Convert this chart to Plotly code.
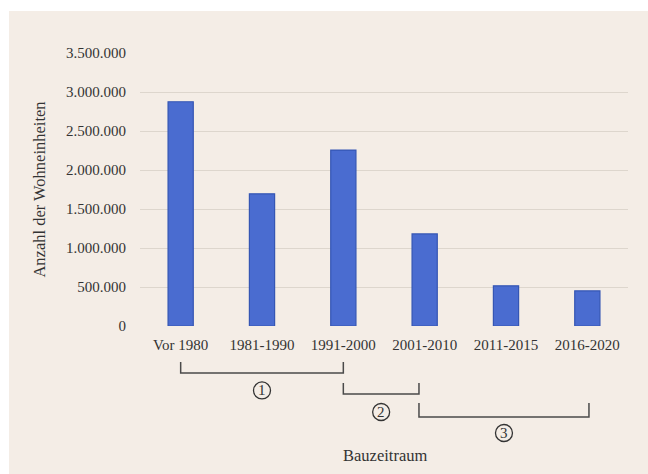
import plotly.graph_objects as go

# Wohneinheiten nach Bauzeitraum
zeitraum = ["Vor 1980", "1981-1990", "1991-2000", "2001-2010", "2011-2015", "2016-2020"]
wohneinheiten = [2875000, 1695000, 2255000, 1180000, 515000, 450000]
y_ticks = [0, 500000, 1000000, 1500000, 2000000, 2500000, 3000000, 3500000]
y_tick_text = ["0", "500.000", "1.000.000", "1.500.000", "2.000.000", "2.500.000", "3.000.000", "3.500.000"]

# Phasen-Klammern unter der x-Achse (Start-/Endkategorie als Index)
phasen = ["1", "2", "3"]
phasen_start = [0, 2, 2.93]
phasen_ende = [2, 2.93, 5.02]

BG = "#f4ede6"
SERIF = "Liberation Serif, Times New Roman, serif"
TXT = "#333333"

fig = go.Figure()
fig.add_trace(go.Bar(
    x=zeitraum,
    y=wohneinheiten,
    marker=dict(color="#4a6cd0", line=dict(color="#3556b4", width=1.2)),
    width=0.31,
    hoverinfo="x+y",
))

shapes = []
# weisser Rand oben und links
shapes.append(dict(type="rect", xref="paper", yref="paper", x0=-0.3, x1=(9 - 140) / 488,
                   y0=-0.6, y1=1.3, fillcolor="white", line=dict(width=0), layer="below"))
shapes.append(dict(type="rect", xref="paper", yref="paper", x0=-0.3, x1=1.1,
                   y0=(326 - 11) / 273, y1=1.3, fillcolor="white", line=dict(width=0), layer="below"))

annotations = []
bracket_levels = [(-0.132, -0.172, -0.236), (-0.209, -0.249, -0.315), (-0.282, -0.333, -0.392)]
for name, a, b, (ytop, ybar, ycirc) in zip(phasen, phasen_start, phasen_ende, bracket_levels):
    shapes.append(dict(
        type="path", xref="x", yref="paper",
        path=f"M {a},{ytop} L {a},{ybar} L {b},{ybar} L {b},{ytop}",
        line=dict(color="#4a4a4a", width=1.5),
    ))
    mid = (a + b) / 2
    shapes.append(dict(
        type="circle", xref="x", yref="paper", xsizemode="pixel", ysizemode="pixel",
        xanchor=mid, yanchor=ycirc, x0=-8.5, x1=8.5, y0=-8.5, y1=8.5,
        line=dict(color="#333333", width=1.3),
    ))
    annotations.append(dict(
        x=mid, y=ycirc, xref="x", yref="paper", text=name, showarrow=False,
        font=dict(family=SERIF, size=15, color=TXT), xanchor="center", yanchor="middle",
    ))

annotations.append(dict(
    x=(385 - 140) / 488, y=(326 - 455) / 273, xref="paper", yref="paper", text="Bauzeitraum",
    showarrow=False, font=dict(family=SERIF, size=16.5, color=TXT), xanchor="center", yanchor="middle",
))

fig.update_layout(
    width=648,
    height=474,
    margin=dict(l=140, r=20, t=53, b=148),
    paper_bgcolor=BG,
    plot_bgcolor=BG,
    showlegend=False,
    shapes=shapes,
    annotations=annotations,
    xaxis=dict(
        showgrid=False, showline=False, zeroline=False, ticks="",
        ticklabelstandoff=8,
        tickfont=dict(family=SERIF, size=15, color=TXT),
        range=[-0.5, 5.5],
    ),
    yaxis=dict(
        range=[0, 3500000],
        tickvals=y_ticks,
        ticktext=y_tick_text,
        showgrid=True, gridcolor="#ddd6cd", gridwidth=1.3,
        zeroline=False, showline=False, ticks="",
        ticklabelstandoff=13,
        tickfont=dict(family=SERIF, size=15, color=TXT),
        title=dict(text="Anzahl der Wohneinheiten", standoff=16,
                   font=dict(family=SERIF, size=16.5, color=TXT)),
    ),
)

fig.write_html("out.html")
